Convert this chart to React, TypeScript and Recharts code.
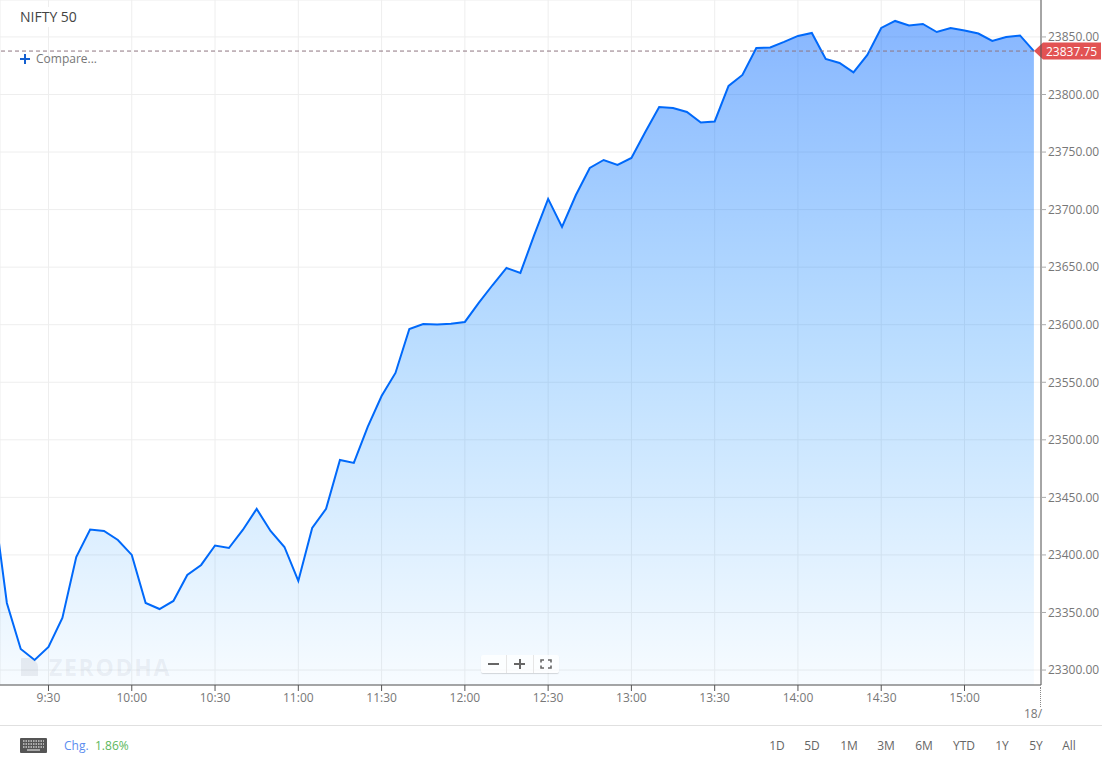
import React from 'react';
import { AreaChart, Area, XAxis, YAxis, CartesianGrid, ReferenceLine } from 'recharts';

// minutes since midnight, 5 min candles (first one sits just off the left edge)
const minutes = [
  550, 555, 560, 565, 570, 575, 580, 585, 590, 595, 600, 605, 610, 615, 620, 625, 630, 635, 640,
  645, 650, 655, 660, 665, 670, 675, 680, 685, 690, 695, 700, 705, 710, 715, 720, 725, 730, 735,
  740, 745, 750, 755, 760, 765, 770, 775, 780, 785, 790, 795, 800, 805, 810, 815, 820, 825, 830,
  835, 840, 845, 850, 855, 860, 865, 870, 875, 880, 885, 890, 895, 900, 905, 910, 915, 920, 925,
];

const closes = [
  23450.3, 23358.3, 23318.3, 23308.7, 23320, 23345.2, 23398.2, 23422.1, 23420.8, 23413, 23400,
  23358.3, 23353, 23360, 23382.6, 23391.3, 23408.2, 23406, 23421.7, 23440, 23420.8, 23406.9,
  23377.4, 23423.4, 23440, 23482.5, 23479.9, 23511.2, 23538.1, 23558.1, 23596.3, 23600.6, 23600.2,
  23600.8, 23602.4, 23618.9, 23634.5, 23649.3, 23645, 23678, 23709.3, 23684.9, 23712.7, 23736.2,
  23743.1, 23738.8, 23744.9, 23767.5, 23789.2, 23788.3, 23784.8, 23775.7, 23776.6, 23807.4, 23817,
  23840.4, 23840.9, 23845.7, 23850.9, 23853.5, 23830.9, 23827.4, 23819.2, 23834.4, 23857.8, 23863.9,
  23860, 23861.3, 23854.3, 23857.8, 23855.6, 23853, 23846.5, 23850, 23851.3, 23837.75,
];

const xTicks = [570, 600, 630, 660, 690, 720, 750, 780, 810, 840, 870, 900];
const yTicks = [23300, 23350, 23400, 23450, 23500, 23550, 23600, 23650, 23700, 23750, 23800, 23850];
const ranges = ['1D', '5D', '1M', '3M', '6M', 'YTD', '1Y', '5Y', 'All'];
const rangeX = [777, 812, 849, 886, 924, 964, 1002, 1036, 1069];

const LAST_PRICE = 23837.75;
const FONT = '"Open Sans", sans-serif';

const data = minutes.map((t, i) => ({ t, close: closes[i] }));

const fmtTime = (m: number) => `${Math.floor(m / 60)}:${String(m % 60).padStart(2, '0')}`;

function PriceTag({ viewBox }: any) {
  const y = viewBox.y;
  return (
    <g>
      <path
        d={`M1034 ${y} L1043 ${y - 8.5} H1101 V${y + 8.5} H1043 Z`}
        fill="#e25353"
      />
      <text x={1046} y={y + 4.5} fontSize={12} fill="#fff" fontFamily={FONT}>
        {LAST_PRICE.toFixed(2)}
      </text>
    </g>
  );
}

function Abs({ x, y, style, children }: any) {
  return (
    <div style={{ position: 'absolute', left: x, top: y, whiteSpace: 'nowrap', ...style }}>{children}</div>
  );
}

function KeyboardIcon() {
  return (
    <svg width={27} height={15} style={{ display: 'block' }}>
      <rect width={27} height={15} rx={1} fill="#555" />
      {[3, 6, 9].map(y => (
        <line key={y} x1={3} x2={24} y1={y} y2={y} stroke="#ccc" strokeWidth={1.4} strokeDasharray="1.5 1" />
      ))}
      <line x1={7} x2={20} y1={12} y2={12} stroke="#ccc" strokeWidth={1.4} />
    </svg>
  );
}

function FullscreenIcon() {
  return (
    <svg width={12} height={10} style={{ display: 'block' }}>
      <path d="M1 3.5 V1 H4 M8 1 H11 V3.5 M11 6.5 V9 H8 M4 9 H1 V6.5" fill="none" stroke="#666" strokeWidth={1.6} />
    </svg>
  );
}

export default function App() {
  return (
    <div style={{ position: 'absolute', left: 0, top: 0, width: 1102, height: 763, background: '#fff', fontFamily: FONT, overflow: 'hidden' }}>
      <AreaChart width={1102} height={763} data={data} margin={{ top: 0, right: 0, bottom: 0, left: 0 }}>
        <defs>
          <linearGradient id="niftyFill" x1="0" y1="0" x2="0" y2="1">
            <stop offset="0%" stopColor="rgb(0,100,255)" stopOpacity={0.47} />
            <stop offset="50%" stopColor="rgb(0,130,255)" stopOpacity={0.263} />
            <stop offset="100%" stopColor="rgb(0,140,255)" stopOpacity={0.03} />
          </linearGradient>
        </defs>
        <CartesianGrid stroke="#eeeeee" />
        <XAxis
          dataKey="t"
          type="number"
          domain={[552.53, 927.56]}
          allowDataOverflow
          ticks={xTicks}
          tickFormatter={fmtTime}
          interval={0}
          height={78}
          stroke="#555"
          tickLine={{ stroke: '#555' }}
          tickSize={6}
          tick={{ fontSize: 12, fill: '#777', fontFamily: FONT }}
        />
        <YAxis
          orientation="right"
          domain={[23287, 23882.1]}
          allowDataOverflow
          ticks={yTicks}
          interval={0}
          width={61}
          stroke="#555"
          tickLine={{ stroke: '#aaa' }}
          tickSize={5}
          tickFormatter={(v: number) => v.toFixed(2)}
          tick={{ fontSize: 12, fill: '#777', fontFamily: FONT, textAnchor: 'start' }}
        />
        <Area
          type="linear"
          dataKey="close"
          stroke="#0069fa"
          strokeWidth={2}
          fill="url(#niftyFill)"
          fillOpacity={1}
          dot={false}
          activeDot={false}
          isAnimationActive={false}
        />
        <ReferenceLine
          y={LAST_PRICE}
          stroke="#8f7580"
          strokeDasharray="4 3"
          strokeWidth={1}
          label={<PriceTag />}
        />
      </AreaChart>

      {/* watermark */}
      <Abs x={49} y={651} style={{ fontSize: 23, fontWeight: 700, letterSpacing: 1.7, color: 'rgba(120,130,150,0.11)' }}>
        ZERODHA
      </Abs>
      <Abs x={21} y={658} style={{ width: 17, height: 18, background: 'rgba(120,130,150,0.13)', borderTopLeftRadius: 1, borderTopRightRadius: 9 }} />

      {/* header */}
      <Abs x={16} y={7} style={{ fontSize: 14, color: '#444', background: '#fff', padding: '0 4px', lineHeight: '20px' }}>
        NIFTY 50
      </Abs>
      <Abs x={20} y={58} style={{ width: 10, height: 2, background: '#1460d0' }} />
      <Abs x={24} y={54} style={{ width: 2, height: 10, background: '#1460d0' }} />
      <Abs x={36} y={50} style={{ fontSize: 12, color: '#777', lineHeight: '17px' }}>
        Compare...
      </Abs>

      {/* zoom controls */}
      <Abs x={481} y={655} style={{ width: 78, height: 18, background: 'rgba(255,255,255,0.75)', borderRadius: 2, boxShadow: '0 1px 1px rgba(0,0,0,0.15)' }}>
        <div style={{ position: 'absolute', left: 7, top: 8, width: 11, height: 2, background: '#666' }} />
        <div style={{ position: 'absolute', left: 25, top: 0, width: 1, height: 18, background: '#e6e6e6' }} />
        <div style={{ position: 'absolute', left: 33, top: 8, width: 11, height: 2, background: '#666' }} />
        <div style={{ position: 'absolute', left: 37.5, top: 4, width: 2, height: 10, background: '#666' }} />
        <div style={{ position: 'absolute', left: 52, top: 0, width: 1, height: 18, background: '#e6e6e6' }} />
        <div style={{ position: 'absolute', left: 59, top: 4 }}><FullscreenIcon /></div>
      </Abs>

      {/* next day marker at the axis edge */}
      <Abs x={1040} y={687} style={{ width: 1, height: 20, borderLeft: '1px dotted #888' }} />
      <Abs x={1024} y={705} style={{ fontSize: 12, color: '#777', lineHeight: '17px' }}>
        18/
      </Abs>

      {/* footer */}
      <Abs x={0} y={725} style={{ width: 1102, height: 1, background: '#e0e0e0' }} />
      <Abs x={20} y={738}>
        <KeyboardIcon />
      </Abs>
      <Abs x={64} y={737} style={{ fontSize: 12, color: '#5b8def', lineHeight: '17px' }}>
        Chg.
      </Abs>
      <Abs x={95} y={737} style={{ fontSize: 12, color: '#5cb85c', lineHeight: '17px' }}>
        1.86%
      </Abs>
      {ranges.map((r, i) => (
        <Abs key={r} x={rangeX[i] - 20} y={737} style={{ width: 40, textAlign: 'center', fontSize: 12, color: '#666', lineHeight: '17px' }}>
          {r}
        </Abs>
      ))}
    </div>
  );
}
